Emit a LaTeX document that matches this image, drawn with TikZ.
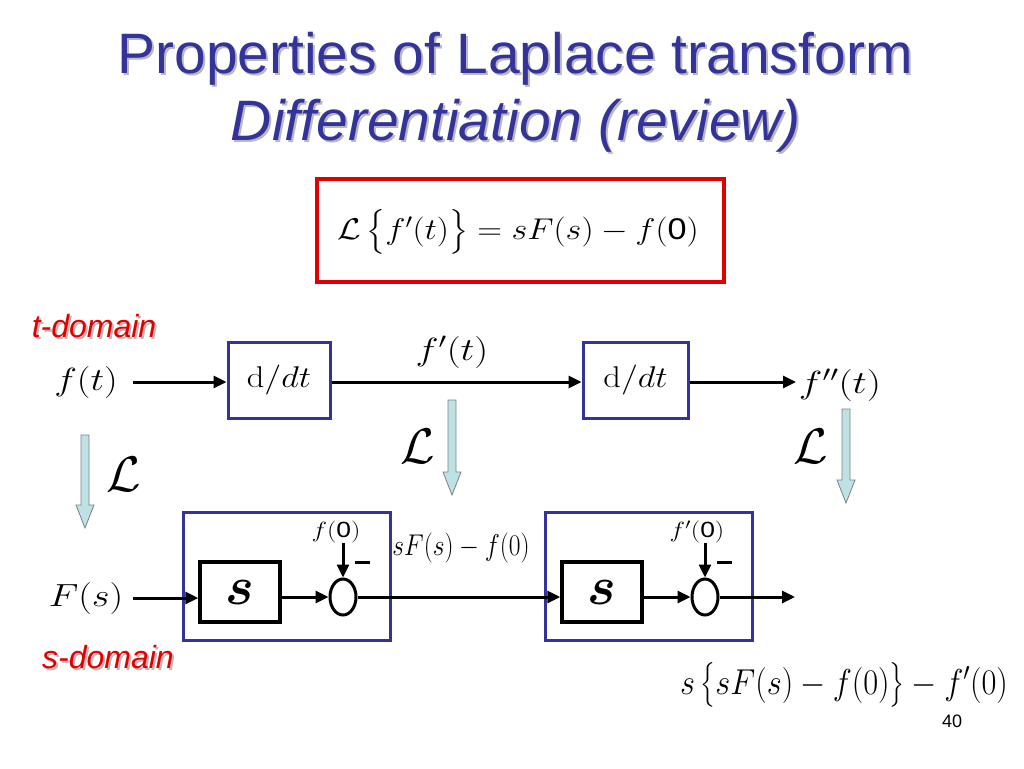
\RequirePackage{fix-cm}
\documentclass[tikz,border=0pt]{standalone}
\usepackage{amsmath}
\usepackage[no-math]{fontspec}
\setmainfont{Liberation Sans}
\usepackage{bm}
\usepackage{graphicx}
\usetikzlibrary{arrows.meta,shapes.geometric}
\definecolor{ttl}{RGB}{51,51,153}
\definecolor{bbox}{RGB}{51,51,153}
\definecolor{lblue}{RGB}{190,225,230}
\definecolor{lgray}{RGB}{120,130,130}
\definecolor{rred}{RGB}{225,0,0}
\definecolor{shd}{RGB}{185,185,185}
\tikzset{
  sig/.style={line width=3pt,-{Triangle[length=13pt,width=12pt]}},
  plain/.style={line width=3pt},
  bluebox/.style={draw=bbox,line width=3pt,minimum width=#1},
  sbox/.style={draw=black,line width=3.5pt,minimum width=80pt,minimum height=60pt,inner sep=0pt},
  sumc/.style={ellipse,draw=black,line width=3pt,minimum width=26pt,minimum height=36pt,inner sep=0pt},
  lbl/.style={inner sep=0pt},
  larrow/.style={fill=lblue,draw=lgray,line width=0.8pt},
}
\newcommand{\wx}[2]{\scalebox{#1}[1]{#2}}
\newcommand{\blockdown}[3]{% x, ytop, ytip
  \path[larrow] (#1-4,#2) -- (#1+4,#2) -- (#1+4,#3-23) -- (#1+9,#3-23) -- (#1,#3) -- (#1-9,#3-23) -- (#1-4,#3-23) -- cycle;}
\begin{document}
\begin{tikzpicture}[x=1pt,y=-1pt]
\useasboundingbox (0,0) rectangle (1024,768);
% title
\node[lbl,anchor=base,text=shd,font=\fontsize{57}{64}\selectfont] at (517,75) {Properties of Laplace transform};
\node[lbl,anchor=base,text=shd,font=\fontsize{57}{64}\selectfont\itshape] at (518,142) {Differentiation (review)};
\node[lbl,anchor=base,text=ttl,font=\fontsize{57}{64}\selectfont] (t1) at (515,73) {Properties of Laplace transform};
\node[lbl,anchor=base,text=ttl,font=\fontsize{57}{64}\selectfont\itshape] (t2) at (516,140) {Differentiation (review)};
% formula box
\node[draw=rred,line width=4pt,minimum width=407pt,minimum height=103pt,inner sep=0pt] (fbox) at (520.5,230.5) {};
\node[lbl,font=\fontsize{30}{36}\selectfont] (formula) at (518,232) {\wx{1.14}{$\mathcal{L}\,\bigl\{f'(t)\bigr\}=sF(s)-f(\mbox{0})$}};
% domain labels
\node[lbl,anchor=base,text=shd,font=\fontsize{32}{38}\selectfont\itshape] at (96,339) {t-domain};
\node[lbl,anchor=base,text=rred,font=\fontsize{32}{38}\selectfont\itshape] (tdom) at (94,337) {t-domain};
\node[lbl,anchor=base,text=shd,font=\fontsize{32}{38}\selectfont\itshape] at (110,670) {s-domain};
\node[lbl,anchor=base,text=rred,font=\fontsize{32}{38}\selectfont\itshape] (sdom) at (108,668) {s-domain};
% top row
\node[lbl,font=\fontsize{32}{38}\selectfont] (ft) at (86,382) {\wx{1.2}{$f(t)$}};
\node[bluebox=102pt,minimum height=76pt,font=\fontsize{30}{36}\selectfont] (d1) at (279,380) {\wx{1.15}{$\mathrm{d}/dt$}};
\node[bluebox=105pt,minimum height=76pt,font=\fontsize{30}{36}\selectfont] (d2) at (635.5,380) {\wx{1.15}{$\mathrm{d}/dt$}};
\node[lbl,font=\fontsize{32}{38}\selectfont] (fpt) at (452,352) {\wx{1.22}{$f'(t)$}};
\node[lbl,font=\fontsize{32}{38}\selectfont] (fppt) at (840,385) {\wx{1.25}{$f''(t)$}};
\coordinate (ftout) at (133,382);
\coordinate (fppin) at (796,382);
\draw[sig] (ftout) -- (d1.west|-ftout);
\draw[sig] (d1.east|-ftout) -- (d2.west|-ftout);
\draw[sig] (d2.east|-ftout) -- (fppin);
% Laplace arrows
\blockdown{85}{435}{528}
\blockdown{452}{400}{495}
\blockdown{846}{409}{503}
\node[lbl,font=\fontsize{50}{56}\selectfont] (L1) at (124,474) {$\mathcal{L}$};
\node[lbl,font=\fontsize{50}{56}\selectfont] (L2) at (418,446) {$\mathcal{L}$};
\node[lbl,font=\fontsize{50}{56}\selectfont] (L3) at (811,446) {$\mathcal{L}$};
% bottom row
\node[bluebox=207pt,minimum height=128pt] (B1) at (286.5,576) {};
\node[bluebox=207pt,minimum height=128pt] (B2) at (648.5,576) {};
\node[lbl,font=\fontsize{32}{38}\selectfont] (Fs) at (86,598) {\wx{1.2}{$F(s)$}};
\node[sbox,font=\fontsize{54}{60}\selectfont] (s1) at (240,592) {$\bm{s}$};
\node[sbox,font=\fontsize{54}{60}\selectfont] (s2) at (602,592) {$\bm{s}$};
\node[sumc] (c1) at (343,597) {};
\node[sumc] (c2) at (705,597) {};
\node[lbl,font=\fontsize{22}{26}\selectfont] (f0) at (336,532) {\wx{1.2}{$f(\mbox{0})$}};
\node[lbl,font=\fontsize{22}{26}\selectfont] (fp0) at (697,532) {\wx{1.2}{$f'(\mbox{0})$}};
\coordinate (Fsout) at (133,598);
\coordinate (f0a) at (343,543);
\coordinate (fp0a) at (705,543);
\coordinate (outend) at (795,597);
\draw[sig] (Fsout) -- (s1.west|-Fsout);
\draw[sig] (s1.east|-c1) -- (c1.west);
\draw[sig] (f0a) -- (c1.north);
\draw[sig] (c1.east) -- (s2.west|-c1);
\draw[sig] (s2.east|-c2) -- (c2.west);
\draw[sig] (fp0a) -- (c2.north);
\draw[sig] (c2.east) -- (outend);
\coordinate (m1a) at (355,562); \coordinate (m1b) at (370,562);
\coordinate (m2a) at (717,562); \coordinate (m2b) at (732,562);
\draw[plain] (m1a) -- (m1b);
\draw[plain] (m2a) -- (m2b);
\node[lbl,font=\fontsize{30}{36}\selectfont] (mid) at (461,548) {\wx{0.85}{$sF(s)-f(0)$}};
\node[lbl,font=\fontsize{36}{42}\selectfont] (res) at (844,685) {\wx{0.9}{$s\,\bigl\{sF(s)-f(0)\bigr\}-f'(0)$}};
\node[lbl,anchor=base,font=\fontsize{18}{20}\selectfont] (pg) at (952,727) {40};
\end{tikzpicture}
\end{document}
